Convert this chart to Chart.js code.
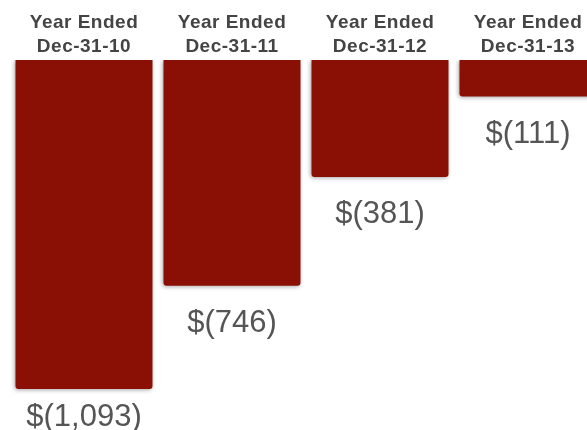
<!DOCTYPE html>
<html>
<head>
<meta charset="utf-8">
<script src="https://cdn.jsdelivr.net/npm/chart.js@4/dist/chart.umd.min.js"></script>
<style>
    html, body { margin: 0; padding: 0; background: #fff; overflow: hidden; }
    #wrap { width: 587px; height: 430px; overflow: hidden; }
    canvas { display: block; }
</style>
</head>
<body>
<div id="wrap"><canvas id="lossChart" width="602" height="430"></canvas></div>
<script>
// Net loss by year (in thousands)
const headerLine1 = ['Year Ended', 'Year Ended', 'Year Ended', 'Year Ended'];
const headerLine2 = ['Dec-31-10', 'Dec-31-11', 'Dec-31-12', 'Dec-31-13'];
const netLoss = [-1093, -746, -381, -111];

const BAR_COLOR = '#8a1006';

function formatLoss(v) {
    return '$(' + Math.abs(v).toLocaleString('en-US') + ')';
}

// soft drop shadow under the bars
const barShadow = {
    id: 'barShadow',
    beforeDatasetsDraw(chart) {
        const ctx = chart.ctx;
        ctx.save();
        ctx.shadowColor = 'rgba(0,0,0,0.35)';
        ctx.shadowBlur = 4;
        ctx.shadowOffsetX = -1;
        ctx.shadowOffsetY = 1;
    },
    afterDatasetsDraw(chart) {
        chart.ctx.restore();
    }
};

// header labels on top + value labels under each bar
const labelsPlugin = {
    id: 'labelsPlugin',
    afterDraw(chart) {
        const ctx = chart.ctx;
        const x = chart.scales.x;
        const y = chart.scales.y;
        ctx.save();
        ctx.textAlign = 'center';
        ctx.textBaseline = 'alphabetic';

        ctx.fillStyle = '#444444';
        ctx.font = 'bold 19px "Liberation Sans", Arial, sans-serif';
        ctx.letterSpacing = '0.5px';
        headerLine1.forEach((t, i) => {
            const cx = x.getPixelForValue(i);
            ctx.fillText(t, cx, 28);
            ctx.fillText(headerLine2[i], cx, 51.5);
        });

        ctx.fillStyle = '#555555';
        ctx.font = '31px "Liberation Sans", Arial, sans-serif';
        ctx.letterSpacing = '0px';
        netLoss.forEach((v, i) => {
            const cx = x.getPixelForValue(i);
            const end = y.getPixelForValue(v);
            ctx.fillText(formatLoss(v), cx, Math.min(end + 46, chart.height - 4));
        });
        ctx.restore();
    }
};

const ctx = document.getElementById('lossChart').getContext('2d');
new Chart(ctx, {
    type: 'bar',
    data: {
        labels: headerLine2,
        datasets: [{
            data: netLoss,
            base: 12,
            backgroundColor: BAR_COLOR,
            borderWidth: 0,
            borderRadius: 3,
            borderSkipped: 'start',
            barPercentage: 0.926,
            categoryPercentage: 1
        }]
    },
    options: {
        responsive: false,
        animation: false,
        layout: { padding: { top: 60, left: 10, right: 0, bottom: 0 } },
        scales: {
            x: { display: false },
            y: { display: false, min: -1231, max: 12 }
        },
        plugins: {
            legend: { display: false },
            tooltip: { enabled: false }
        }
    },
    plugins: [barShadow, labelsPlugin]
});
</script>
</body>
</html>
